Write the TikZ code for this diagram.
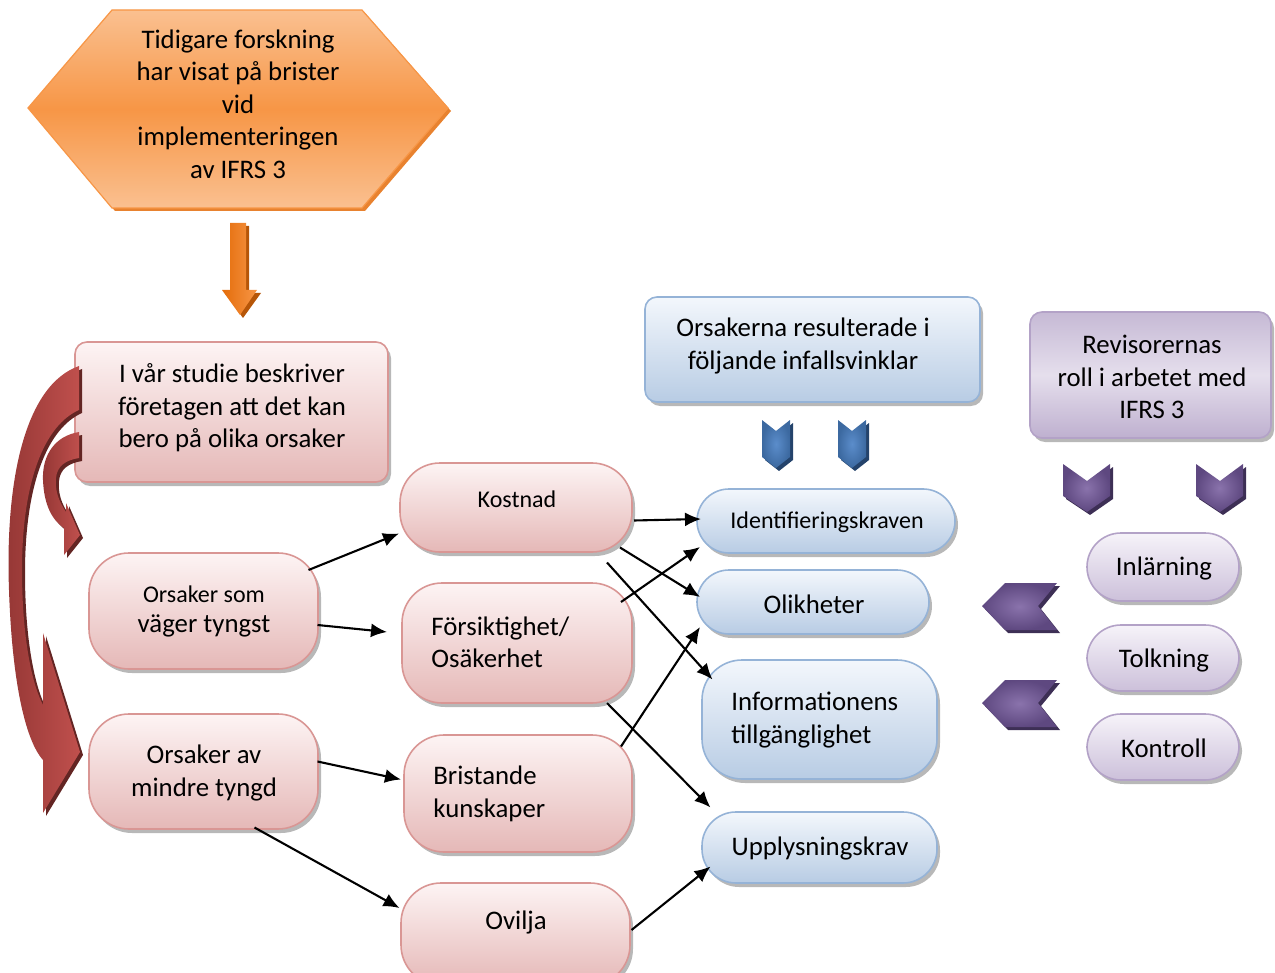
\documentclass[tikz,border=0pt]{standalone}
\usepackage{fontspec}
\setmainfont{Carlito}
\usetikzlibrary{arrows.meta,shadows,fit,calc}
\definecolor{pinkline}{HTML}{D99694}
\definecolor{pinktop}{HTML}{FDF4F4}
\definecolor{pinkbot}{HTML}{E5B8B7}
\definecolor{blueline}{HTML}{95B3D7}
\definecolor{bluetop}{HTML}{F3F7FC}
\definecolor{bluebot}{HTML}{B8CCE4}
\definecolor{purpline}{HTML}{B3A2C7}
\definecolor{purptop}{HTML}{F6F3F9}
\definecolor{purpbot}{HTML}{CCC0DA}
\definecolor{orlight}{HTML}{FAC090}
\definecolor{ormid}{HTML}{F79646}
\definecolor{ordark}{HTML}{E46C0A}
\definecolor{redlight}{HTML}{C0504D}
\definecolor{reddark}{HTML}{953735}
\definecolor{redshadow}{HTML}{632523}
\definecolor{chbluein}{HTML}{5B8DCB}
\definecolor{chblueout}{HTML}{3C69A0}
\definecolor{chblueshd}{HTML}{24436B}
\definecolor{chpurin}{HTML}{8A73AC}
\definecolor{chpurout}{HTML}{5E4880}
\definecolor{chpurshd}{HTML}{3D2F55}
\begin{document}
\begin{tikzpicture}[x=0.5pt,y=-0.5pt,
  big/.style={font=\fontsize{13.4pt}{16.2pt}\selectfont, align=center, inner sep=0pt},
  small/.style={font=\fontsize{12pt}{15pt}\selectfont, align=center, inner sep=0pt},
  boxbase/.style={inner sep=0pt, line width=0.8pt,
    drop shadow={shadow xshift=1.5pt,shadow yshift=-2pt,fill=black,opacity=0.28}},
  pinkbox/.style={boxbase, draw=pinkline, top color=pinktop, bottom color=pinkbot},
  bluebox/.style={boxbase, draw=blueline, top color=bluetop, bottom color=bluebot},
  purpbox/.style={boxbase, draw=purpline, top color=purptop, bottom color=purpbot},
  arr/.style={-{Latex[length=8pt,width=7pt]}, line width=1.05pt},
]
\useasboundingbox (0,0) rectangle (1275,973);

% ---------- hexagon ----------
\fill[ordark!85] (31,111) -- (115,13) -- (365,13) -- (451,111) -- (365,211) -- (115,211) -- cycle;
\shade[top color=orlight, bottom color=orlight, middle color=ormid, draw=ormid, line width=0.6pt]
  (28,108) -- (112,10) -- (362,10) -- (448,108) -- (362,208) -- (112,208) -- cycle;
\node[big] (hex) at (238,104) {Tidigare forskning\\har visat på brister\\vid\\implementeringen\\av IFRS 3};

% ---------- fat down arrow ----------
\fill[ordark!80!black] (233,226) -- (249,226) -- (249,293) -- (261,293) -- (243,318) -- (225,293) -- (233,293) -- cycle;
\shade[left color=ordark, right color=ormid]
  (230,223) -- (246,223) -- (246,290) -- (257,290) -- (240,315) -- (222,290) -- (230,290) -- cycle;

% ---------- pink boxes ----------
\node[pinkbox, rounded corners=6pt, fit={(75,342)(388,482)}] (studie) {};
\node[big] at (232,408) {I vår studie beskriver\\företagen att det kan\\bero på olika orsaker};

\node[pinkbox, rounded corners=20pt, fit={(89,553)(318,669)}] (orsom) {};
\node[small] at (204,594) {Orsaker som};
\node[big] at (204,626) {väger tyngst};

\node[pinkbox, rounded corners=20pt, fit={(89,714)(318,829)}] (orsav) {};
\node[big] at (204,773) {Orsaker av\\mindre tyngd};

\node[pinkbox, rounded corners=20pt, fit={(400,463)(632,552)}] (kostnad) {};
\node[small] at (517,499) {Kostnad};

\node[pinkbox, rounded corners=20pt, fit={(402,583)(632,703)}] (forsik) {};
\node[big, anchor=west, align=left] at (431,642) {Försiktighet/\\Osäkerhet};

\node[pinkbox, rounded corners=20pt, fit={(404,735)(632,852)}] (brist) {};
\node[big, anchor=west, align=left] at (433,794) {Bristande\\kunskaper};

\node[pinkbox, rounded corners=20pt, fit={(401,883)(630,985)}] (ovilja) {};
\node[big] at (516,922) {Ovilja};

% ---------- blue boxes ----------
\node[bluebox, rounded corners=6pt, fit={(645,297)(980,402)}] (orsakerna) {};
\node[big] at (803,346) {Orsakerna resulterade i\\följande infallsvinklar};

\node[bluebox, rounded corners=16pt, fit={(697,489)(955,553)}] (ident) {};
\node[small] at (827,522) {Identifieringskraven};

\node[bluebox, rounded corners=16pt, fit={(697,570)(929,634)}] (olik) {};
\node[big] at (814,604) {Olikheter};

\node[bluebox, rounded corners=20pt, fit={(702,660)(937,779)}] (info) {};
\node[big, anchor=west, align=left] at (731,720) {Informationens\\tillgänglighet};

\node[bluebox, rounded corners=17pt, fit={(702,812)(937,883)}] (upply) {};
\node[big] at (820,848) {Upplysningskrav};

% ---------- purple boxes ----------
\node[boxbase, draw=purpline, top color=purpline!75!white, bottom color=purpline!85!white, middle color=purptop!75!purpline,
      rounded corners=6pt, fit={(1030,312)(1271,438)}] (revis) {};
\node[big] at (1152,377) {Revisorernas\\roll i arbetet med\\IFRS 3};

\node[purpbox, rounded corners=17pt, fit={(1087,533)(1239,601)}] (inl) {};
\node[big] at (1164,568) {Inlärning};

\node[purpbox, rounded corners=17pt, fit={(1087,625)(1239,691)}] (tolk) {};
\node[big] at (1164,660) {Tolkning};

\node[purpbox, rounded corners=17pt, fit={(1087,714)(1239,780)}] (kontr) {};
\node[big] at (1164,748) {Kontroll};

% ---------- chevrons ----------
\foreach \dx in {0,76}{
  \fill[chblueshd] ([xshift=1.5pt,yshift=-1.5pt]762+\dx,420) -- ++(14,11) -- ++(14,-11) -- ++(0,37) -- ++(-14,11) -- ++(-14,-11) -- cycle;
  \shade[inner color=chbluein, outer color=chblueout] (762+\dx,420) -- ++(14,11) -- ++(14,-11) -- ++(0,37) -- ++(-14,11) -- ++(-14,-11) -- cycle;
}
\foreach \dx in {0,133}{
  \fill[chpurshd] ([xshift=1.5pt,yshift=-1.5pt]1063+\dx,464) -- ++(24,17) -- ++(23,-17) -- ++(0,32) -- ++(-23,16) -- ++(-24,-16) -- cycle;
  \shade[inner color=chpurin, outer color=chpurout] (1063+\dx,464) -- ++(24,17) -- ++(23,-17) -- ++(0,32) -- ++(-23,16) -- ++(-24,-16) -- cycle;
}
\foreach \dy in {0,97}{
  \fill[chpurshd] ([xshift=1.5pt,yshift=-1.5pt]982,606+\dy) -- ++(23,-23) -- ++(52,0) -- ++(-19,23) -- ++(19,24) -- ++(-52,0) -- cycle;
  \shade[inner color=chpurin, outer color=chpurout] (982,606+\dy) -- ++(23,-23) -- ++(52,0) -- ++(-19,23) -- ++(19,24) -- ++(-52,0) -- cycle;
}

% ---------- red curved arrows ----------
\begin{scope}[shift={(3,3)}]
\fill[redshadow]
  (79,366) .. controls (25,385) and (5,480) .. (9,590) .. controls (12,680) and (25,740) .. (43,760)
  -- (43,813) -- (80,752) -- (43,633) -- (43,705) .. controls (30,680) and (22,630) .. (22,570)
  .. controls (22,480) and (45,425) .. (79,410) -- cycle;
\fill[redshadow]
  (79,432) .. controls (55,436) and (42,455) .. (43,480) .. controls (44,505) and (52,520) .. (64,528)
  -- (64,555) -- (80,535) -- (66,503) -- (66,512) .. controls (58,500) and (55,490) .. (56,478)
  .. controls (57,466) and (66,460) .. (79,458) -- cycle;
\end{scope}
\shade[left color=reddark, right color=redlight]
  (79,366) .. controls (25,385) and (5,480) .. (9,590) .. controls (12,680) and (25,740) .. (43,760)
  -- (43,813) -- (80,752) -- (43,633) -- (43,705) .. controls (30,680) and (22,630) .. (22,570)
  .. controls (22,480) and (45,425) .. (79,410) -- cycle;
\shade[left color=reddark, right color=redlight]
  (79,432) .. controls (55,436) and (42,455) .. (43,480) .. controls (44,505) and (52,520) .. (64,528)
  -- (64,555) -- (80,535) -- (66,503) -- (66,512) .. controls (58,500) and (55,490) .. (56,478)
  .. controls (57,466) and (66,460) .. (79,458) -- cycle;

% ---------- connectors ----------
\draw[arr] ($(orsom)+(105,-41)$) -- ($(kostnad)+(-117,26)$);
\draw[arr] ($(orsom)+(114,14)$) -- ($(forsik)+(-130,-11)$);
\draw[arr] ($(orsav)+(114,-10)$) -- ($(brist)+(-117,-14)$);
\draw[arr] ($(orsav)+(51,56)$) -- ($(ovilja)+(-116,-26)$);
\draw[arr] ($(kostnad)+(118,13)$) -- ($(ident)+(-125,-2)$);
\draw[arr] ($(kostnad)+(104,40)$) -- ($(olik)+(-113,-5)$);
\draw[arr] ($(kostnad)+(91,55)$) -- ($(info)+(-107,-40)$);
\draw[arr] ($(forsik)+(104,-41)$) -- ($(ident)+(-126,26)$);
\draw[arr] ($(forsik)+(90,60)$) -- ($(upply)+(-109,-40)$);
\draw[arr] ($(brist)+(103,-47)$) -- ($(olik)+(-113,25)$);
\draw[arr] ($(ovilja)+(116,-4)$) -- ($(upply)+(-109,19)$);
\end{tikzpicture}
\end{document}
